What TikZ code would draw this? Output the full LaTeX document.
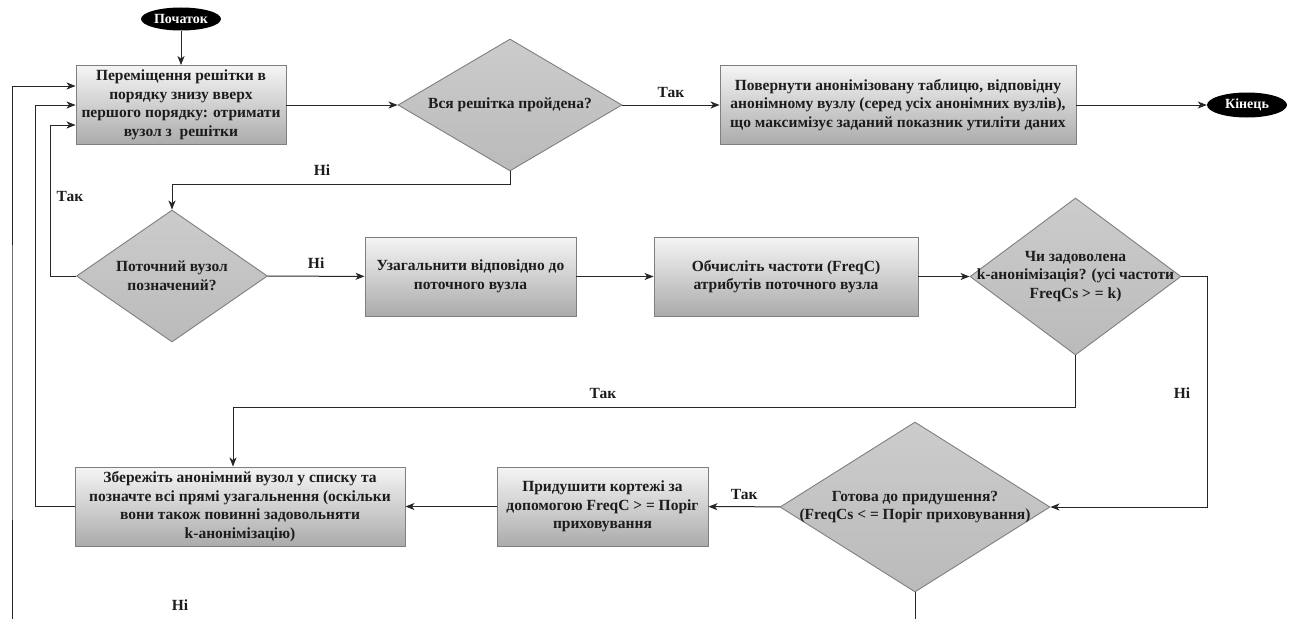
\documentclass[tikz,border=0pt]{standalone}
\usepackage{fontspec}
\setmainfont{Liberation Serif}
\usetikzlibrary{shapes.geometric,arrows.meta,calc}

\definecolor{edgegray}{HTML}{7F7F7F}
\definecolor{inkcol}{HTML}{1C1C1C}

\tikzset{
  box/.style={rectangle, draw=edgegray, line width=0.9pt,
    top color=white!96!black, bottom color=black!33,
    inner sep=0pt, align=center, text=inkcol},
  dia/.style={diamond, draw=edgegray, line width=0.9pt,
    top color=black!20, middle color=black!9, bottom color=black!27,
    inner sep=0pt},
  diatext/.style={align=center, text=inkcol, inner sep=0pt},
  term/.style={ellipse, fill=black, text=white, inner sep=0pt,
    font=\fontsize{14}{16}\selectfont\bfseries},
  arr/.style={draw=black!85, line width=1pt,
    -{Stealth[length=9pt,width=7pt,inset=2.5pt]}},
  lbl/.style={text=inkcol, inner sep=0pt}
}

\begin{document}
\begin{tikzpicture}[x=1pt,y=-1pt,
  every node/.append style={font=\fontsize{15.5}{18.5}\selectfont\bfseries}]
\useasboundingbox (0,0) rectangle (1300,618);
\clip (0,0) rectangle (1300,618);

% terminals
\node[term, minimum width=80pt, minimum height=23pt] (start) at (181,19) {Початок};
\node[term, minimum width=80pt, minimum height=25pt] (stop) at (1247,105) {Кінець};

% process boxes
\node[box, minimum width=210pt, minimum height=79pt] (b1) at (181,105)
  {Переміщення решітки в\\порядку знизу вверх\\першого порядку: отримати\\вузол з\ \ решітки};
\node[box, minimum width=356pt, minimum height=79pt] (b2) at (898,105)
  {Повернути анонімізовану таблицю, відповідну\\анонімному вузлу (серед усіх анонімних вузлів),\\що максимізує заданий показник утиліти даних};
\node[box, minimum width=211pt, minimum height=79pt] (b3) at (470.5,276.5)
  {Узагальнити відповідно до\\поточного вузла};
\node[box, minimum width=264pt, minimum height=79pt] (b4) at (786,276.5)
  {Обчисліть частоти (FreqC)\\атрибутів поточного вузла};
\node[box, minimum width=330pt, minimum height=79pt] (b5) at (240,506.5)
  {Збережіть анонімний вузол у списку та\\позначте всі прямі узагальнення (оскільки\\вони також повинні задовольняти\\k-анонімізацію)};
\node[box, minimum width=211pt, minimum height=79pt] (b6) at (602.5,506.5)
  {Придушити кортежі за\\допомогою FreqC > = Поріг\\приховування};

% decision diamonds
\node[dia, minimum width=224pt, minimum height=132pt] (d1) at (510,105) {};
\node[diatext] (d1t) at (d1) {Вся решітка пройдена?};
\node[dia, minimum width=191pt, minimum height=132pt] (d2) at (172,276) {};
\node[diatext] (d2t) at (d2) {Поточний вузол\\позначений?};
\node[dia, minimum width=211pt, minimum height=157pt] (d3) at (1075.5,276.5) {};
\node[diatext] (d3t) at (d3) {Чи задоволена\\k-анонімізація? (усі частоти\\FreqCs > = k)};
\node[dia, minimum width=270pt, minimum height=170pt] (d4) at (915,507) {};
\node[diatext] (d4t) at (d4) {Готова до придушення?\\(FreqCs < = Поріг приховування)};

% main flow
\draw[arr] (start) -- (b1);
\draw[arr] (b1) -- (d1);
\draw[arr] (d1) -- node[lbl, above=7pt] (l1) {Так} (b2);
\draw[arr] (b2) -- (stop);
\draw[arr] (d1.south) -- ++(0,13) -| (d2.north);
\node[lbl] (l2) at (322,170) {Ні};
\draw[arr] (d2) -- node[lbl, above=7pt] (l3) {Ні} (b3);
\draw[arr] (b3) -- (b4);
\draw[arr] (b4) -- (d3.west);

% k-anonymity test
\draw[arr] (d3.east) -- ++(26,0) |- (d4.east);
\node[lbl] (l4) at (1182,393) {Ні};
\draw[arr] (d3.south) -- ++(0,52) -| ($(b5.north)+(-7,0)$);
\node[lbl] (l5) at (603,393) {Так};

% suppression branch
\draw[arr] (d4) -- node[lbl, above=7pt] (l6) {Так} (b6);
\draw[arr] (b6) -- (b5);

% loops back to the lattice traversal
\draw[arr] (d2.west) -- ++(-26,0) |- ($(b1.west)+(0,20)$);
\node[lbl] (l7) at (70,196) {Так};
\draw[arr] (b5.west) -- ++(-39,0) |- (b1.west);
\draw[arr] (d4.south) -- ++(0,50) -| (12,400) |- ($(b1.west)+(0,-19)$);
\node[lbl] (l8) at (180,605) {Ні};
\end{tikzpicture}
\end{document}
